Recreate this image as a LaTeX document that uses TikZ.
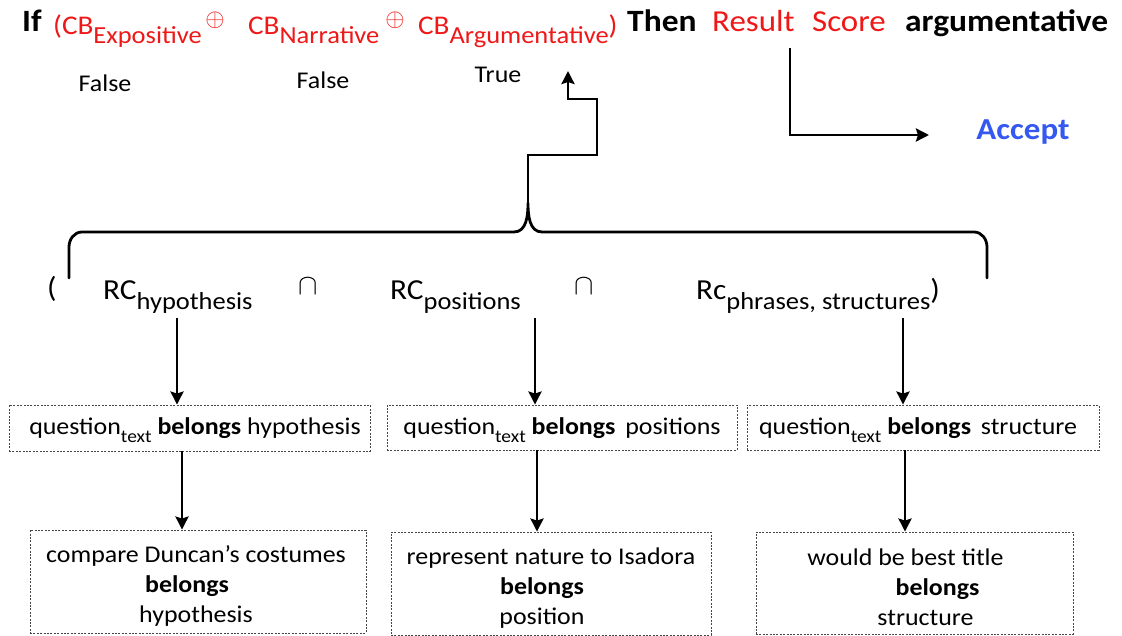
\documentclass[tikz,border=0pt]{standalone}
\usepackage{fontspec}
\setmainfont{Carlito}[FakeStretch=1.08]
\usetikzlibrary{arrows.meta}
\definecolor{cbred}{RGB}{238,24,24}
\definecolor{acceptblue}{RGB}{52,88,240}
\definecolor{dashgray}{RGB}{70,70,70}
\newcommand\lowtext[1]{\raisebox{-0.32em}{#1}}
\newcommand\subsz{\fontsize{24.5}{28}\selectfont}
\newcommand\bigcapsym{\scalebox{1.4}{$\cap$}}
\begin{document}
\begin{tikzpicture}[x=1pt,y=-1pt,
  lbl/.style={inner sep=0pt, anchor=base west},
  bigb/.style={lbl, font=\fontsize{31}{36}\selectfont\bfseries},
  bigr/.style={lbl, font=\fontsize{30.5}{36}\selectfont, text=cbred},
  cbtext/.style={lbl, font=\fontsize{27}{32}\selectfont, text=cbred},
  plain/.style={inner sep=0pt, font=\fontsize{24}{30}\selectfont},
  rctext/.style={lbl, font=\fontsize{29}{34}\selectfont},
  oper/.style={inner sep=0pt},
  dbox/.style={draw=dashgray, line width=0.9pt, dash pattern=on 2pt off 1.4pt, inner sep=0pt},
  btext/.style={inner sep=0pt, align=center, font=\fontsize{24}{30}\selectfont},
  conn/.style={line width=2.8pt, line join=miter},
  arr/.style={conn, -{Stealth[length=13pt,width=13pt,inset=2pt]}}
]
\useasboundingbox (0,0) rectangle (1122,636);

% condition line
\node[bigb] (if) at (22,32) {If};
\node[cbtext] (cbexp) at (53,35) {(CB\lowtext{\subsz Expositive}};
\node[oper, font=\fontsize{25}{28}\selectfont, text=cbred] (op1) at (215,20) {$\oplus$};
\node[cbtext] (cbnar) at (248,35) {CB\lowtext{\subsz Narrative}};
\node[oper, font=\fontsize{25}{28}\selectfont, text=cbred] (op2) at (395,20) {$\oplus$};
\node[cbtext] (cbarg) at (418,35) {CB\lowtext{\subsz Argumentative})};
\node[bigb] (then) at (627,32) {Then};
\node[bigr] (result) at (712,32) {Result};
\node[bigr] (score) at (812,32) {Score};
\node[bigb] (argu) at (905,32) {argumentative};

% truth values
\node[plain] (f1) at (105,83) {False};
\node[plain] (f2) at (323,80) {False};
\node[plain] (t3) at (498,75) {True};

% result goes to accept
\node[font=\fontsize{30.5}{36}\selectfont\bfseries, text=acceptblue, inner sep=0pt] (accept) at (1023,132) {Accept};
\coordinate (rs) at (790,48);
\coordinate (acc) at (929,135);
\draw[arr] (rs) |- (acc);

% brace over the three rule conditions
\coordinate (tip) at (528,203);
\draw[conn, line cap=round] (69,278) -- (69,247) to[out=90,in=180] (82,232) -- (514,232)
  to[out=0,in=-90] (tip) to[out=-90,in=180] (542,232) -- (974,232)
  to[out=0,in=90] (987,247) -- (987,278);

% from the brace back up to the true condition
\coordinate (up) at (568,71);
\coordinate (s1) at (528,155);
\coordinate (s2) at (597,155);
\coordinate (s3) at (597,99);
\coordinate (s4) at (568,99);
\draw[arr] (tip) -- (s1) -- (s2) -- (s3) -- (s4) -- (up);

% rule conditions
\node[rctext] (lp) at (47,298) {(};
\node[rctext] (rch) at (103,300) {RC\lowtext{\subsz hypothesis}};
\node[oper, font=\fontsize{22}{26}\selectfont] (cap1) at (308,286) {\bigcapsym};
\node[rctext] (rcp) at (390,300) {RC\lowtext{\subsz positions}};
\node[oper, font=\fontsize{22}{26}\selectfont] (cap2) at (584,286) {\bigcapsym};
\node[rctext] (rcs) at (696,300) {Rc\lowtext{\subsz phrases, structures})};

% first row of boxes
\node[dbox, minimum width=361pt, minimum height=46pt] (q1) at (189.5,428) {};
\node[dbox, minimum width=350pt, minimum height=45pt] (q2) at (562,427.5) {};
\node[dbox, minimum width=352pt, minimum height=45pt] (q3) at (923,427.5) {};
\node[btext] (q1t) at (195,430)
  {question\lowtext{\fontsize{18}{20}\selectfont text} \textbf{belongs} hypothesis};
\node[btext] (q2t) at (562,430)
  {question\lowtext{\fontsize{18}{20}\selectfont text} \textbf{belongs}\, positions};
\node[btext] (q3t) at (918,430)
  {question\lowtext{\fontsize{18}{20}\selectfont text} \textbf{belongs}\, structure};

% second row of boxes
\node[dbox, minimum width=336pt, minimum height=103pt] (c1) at (198,581.5) {};
\node[dbox, minimum width=320pt, minimum height=103pt] (c2) at (551,583.5) {};
\node[dbox, minimum width=317pt, minimum height=102pt] (c3) at (914.5,583) {};
\node[btext] (c1t) at (196,586)
  {compare Duncan’s costumes\\ \hspace*{-18pt}\textbf{belongs}\\ hypothesis};
\node[btext] (c2t) at (551,588)
  {represent nature to Isadora\\ \hspace*{-18pt}\textbf{belongs}\\ \hspace*{-18pt}position};
\node[btext] (c3t) at (914.5,587)
  {\hspace*{-18pt}would be best title\\ \hspace*{46pt}\textbf{belongs}\\ \hspace*{22pt}structure};

% arrows from the conditions down to the boxes
\coordinate (a1) at (177,318);
\coordinate (a2) at (535,318);
\coordinate (a3) at (903,318);
\draw[arr] (a1) -- (a1 |- q1.north);
\draw[arr] (a2) -- (a2 |- q2.north);
\draw[arr] (a3) -- (a3 |- q3.north);

\coordinate (b1) at (182,0);
\coordinate (b2) at (537,0);
\coordinate (b3) at (905,0);
\draw[arr] (b1 |- q1.south) -- (b1 |- c1.north);
\draw[arr] (b2 |- q2.south) -- (b2 |- c2.north);
\draw[arr] (b3 |- q3.south) -- (b3 |- c3.north);
\end{tikzpicture}
\end{document}
